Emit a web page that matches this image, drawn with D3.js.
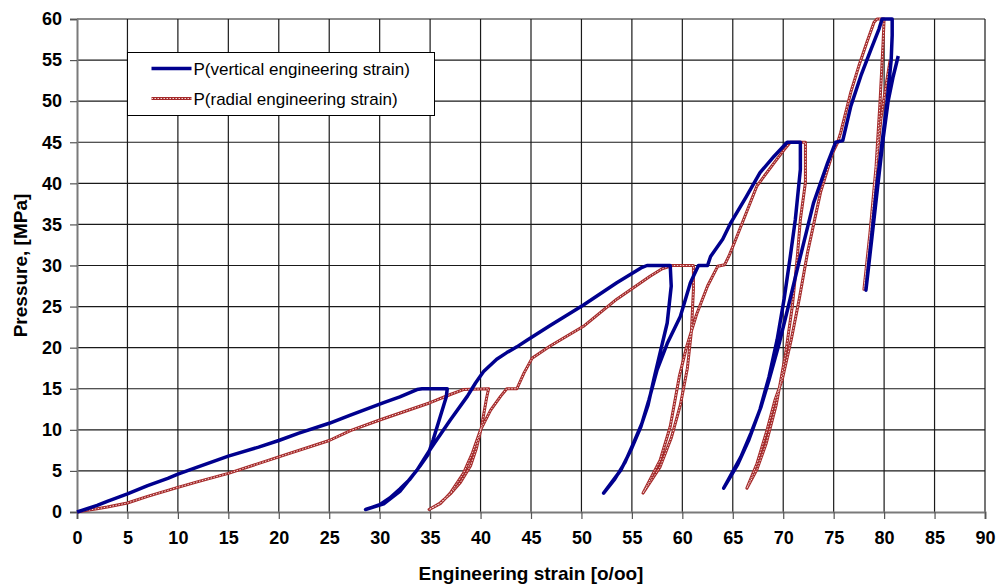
<!DOCTYPE html>
<html>
<head>
<meta charset="utf-8">
<script src="https://cdn.jsdelivr.net/npm/d3@7"></script>
<style>
  body { margin: 0; background: #fff; }
  svg { display: block; font-family: "Liberation Sans", Arial, sans-serif; }
</style>
</head>
<body>
<div id="chart"></div>
<script>
  'use strict';

  var xTicks = d3.range(0, 91, 5);
  var yTicks = d3.range(0, 61, 5);

  var seriesNames = ['P(vertical engineering strain)', 'P(radial engineering strain)'];

  // vertical strain [o/oo] and pressure [MPa]
  var verticalStrain = [
    0, 1, 2, 3, 5, 7, 9, 10, 12, 15, 18, 20, 22, 25, 27.1, 30.4, 32, 33.7, 34.2, 36.7,
    36.6, 36.0, 35.3, 34.8, 34, 33, 32, 31, 30, 28.6,
    30.4, 32.0, 33.7, 35.0, 37.0, 38.7, 39.5, 40.3, 41.6, 42.6, 43.6, 44.6, 46.9, 50.2, 53.5, 55.9, 56.5, 58.8,
    58.9, 58.5, 57.8, 57.2, 56.6, 56, 55.2, 54.3, 53.3, 52.2,
    53.9, 55.0, 55.9, 56.7, 57.5, 58.5, 59.8, 60.8, 61.6, 62.5, 62.8, 64.0, 64.8, 66.3, 67.7, 69.1, 70.4, 71.7,
    71.7, 71.2, 70.7, 70.1, 69.4, 68.6, 67.7, 66.6, 65.5, 64.1,
    65.8, 66.8, 67.8, 68.6, 69.6, 70.6, 71.7, 73.0, 74.4, 75.2, 75.9, 76.7, 77.7, 78.7, 79.5, 79.8, 80.8,
    80.8, 80.7, 80.3, 79.8, 79.3, 78.8, 78.2,
    78.8, 79.4, 79.9, 80.4, 80.9, 81.4
  ];
  var verticalP = [
    0, 0.4, 0.8, 1.3, 2.2, 3.2, 4.1, 4.6, 5.5, 6.8, 7.9, 8.7, 9.6, 10.8, 11.8, 13.3, 14.0, 14.9, 15, 15,
    14, 11.6, 8.8, 7.0, 5.6, 4.0, 2.8, 1.7, 0.9, 0.3,
    1.0, 2.5, 5.1, 7.6, 11.2, 14.1, 15.7, 17.1, 18.6, 19.4, 20.1, 20.9, 22.7, 25.2, 27.9, 29.7, 30, 30,
    27.5, 23, 19.4, 16.3, 13, 10.8, 8.5, 6, 4, 2.3,
    5.1, 7.8, 10.4, 13.7, 17.3, 20.5, 23.8, 27.9, 30, 30, 31.1, 33.2, 35.2, 38.3, 41.3, 43.3, 45, 45,
    41.7, 35.6, 31.1, 26, 21, 16.5, 12.5, 8.8, 5.8, 2.9,
    6.7, 9.6, 12.8, 16.1, 20.5, 25.5, 31.1, 37.6, 42.5, 45, 45.2, 49.4, 53.1, 56.3, 58.8, 60, 60,
    58, 55, 50, 45, 40, 34, 27,
    33.5, 40, 45.4, 50, 53, 55.5
  ];

  // radial strain [o/oo] and pressure [MPa]
  var radialStrain = [
    0, 1, 2, 3, 5, 7, 10, 12, 15, 20, 25, 27.1, 30, 35, 37, 38.3, 40.8,
    40.6, 40.1, 39.6, 39, 38, 37, 36, 34.9,
    36, 37.0, 38.3, 39.2, 40.0, 41.0, 42.0, 42.6, 43.6, 44.3, 45.1, 46.9, 50.2, 53.5, 56.8, 58, 59, 61.1,
    61.1, 60.9, 60.5, 59.8, 58.9, 57.8, 56.1,
    57.8, 58.8, 59.7, 60.4, 61.4, 62.5, 63.5, 64.2, 64.6, 65.3, 67.4, 69.1, 70.1, 70.7, 72.2,
    72.2, 71.7, 71.4, 70.9, 70.2, 69.3, 68.3, 67.4, 66.4,
    67.4, 68.4, 69.2, 69.9, 70.8, 71.6, 72.4, 73.7, 74.9, 75.4, 75.7, 76.7, 77.5, 78.3, 79.0, 79.3, 80.0,
    79.9, 79.6, 79.2, 78.7, 78.0,
    78.6, 79.2, 79.7, 80.2, 80.6
  ];
  var radialP = [
    0, 0.2, 0.4, 0.6, 1.1, 1.9, 3.0, 3.7, 4.7, 6.7, 8.7, 9.9, 11.2, 13.3, 14.3, 14.9, 15,
    13.9, 10.4, 7.8, 5.6, 3.6, 2.2, 1.1, 0.3,
    1.0, 2.3, 4.7, 7.2, 10, 12.4, 14.1, 15, 15, 16.9, 18.7, 20.2, 22.6, 25.9, 28.7, 29.6, 30, 30,
    27.1, 22, 17.5, 13, 9, 5.5, 2.3,
    6.3, 10.4, 16.5, 20, 24, 27.5, 29.9, 30.1, 31.1, 33.2, 39.7, 42.5, 44.1, 45, 45,
    40.1, 35.6, 31.1, 25, 19, 13, 8.3, 5.2, 2.9,
    5.9, 10, 13.7, 16.1, 21, 26, 31.5, 38.9, 43.7, 45, 46.2, 51.1, 54.3, 57.2, 59.6, 60, 60,
    57.2, 50, 42, 35, 27.1,
    34, 42, 48, 52, 55
  ];

  var width = 998, height = 586;
  var margin = { left: 77, right: 13, top: 19, bottom: 74 };

  var svg = d3.select('#chart').append('svg')
    .attr('width', width)
    .attr('height', height);

  var x = d3.scaleLinear().domain([0, 90]).range([margin.left, width - margin.right]);
  var y = d3.scaleLinear().domain([0, 60]).range([height - margin.bottom, margin.top]);

  var blue = '#00008e', red = '#a52a2a';

  /* ------- GRID ------- */
  var grid = svg.append('g').attr('class', 'grid');
  grid.selectAll('line.v')
    .data(xTicks.slice(1))
    .enter().append('line')
    .attr('class', 'v')
    .attr('x1', function(d) { return x(d); })
    .attr('x2', function(d) { return x(d); })
    .attr('y1', y(0))
    .attr('y2', y(60))
    .attr('stroke', '#1a1a1a')
    .attr('stroke-width', 1.2);
  grid.selectAll('line.h')
    .data(yTicks.slice(1))
    .enter().append('line')
    .attr('class', 'h')
    .attr('x1', x(0))
    .attr('x2', x(90))
    .attr('y1', function(d) { return y(d); })
    .attr('y2', function(d) { return y(d); })
    .attr('stroke', '#1a1a1a')
    .attr('stroke-width', 1.2);

  /* ------- AXES ------- */
  var xAxis = d3.axisBottom(x).tickValues(xTicks).tickSize(7).tickPadding(12);
  var yAxis = d3.axisLeft(y).tickValues(yTicks).tickSize(7).tickPadding(8);

  var gx = svg.append('g')
    .attr('transform', 'translate(0,' + y(0) + ')')
    .call(xAxis);
  var gy = svg.append('g')
    .attr('transform', 'translate(' + x(0) + ',0)')
    .call(yAxis);

  [gx, gy].forEach(function(g) {
    g.select('.domain').attr('stroke', '#7a7a7a').attr('stroke-width', 2);
    g.selectAll('.tick line').attr('stroke', '#555').attr('stroke-width', 1.2);
    g.selectAll('.tick text')
      .attr('fill', '#000')
      .style('font-size', '18px')
      .style('font-weight', 'bold');
  });

  svg.append('text')
    .attr('x', (x(0) + x(90)) / 2)
    .attr('y', 580)
    .attr('text-anchor', 'middle')
    .style('font-size', '19px')
    .style('font-weight', 'bold')
    .text('Engineering strain [o/oo]');

  svg.append('text')
    .attr('transform', 'translate(27,' + (y(0) + y(60)) / 2 + ') rotate(-90)')
    .attr('text-anchor', 'middle')
    .style('font-size', '19px')
    .style('font-weight', 'bold')
    .text('Pressure, [MPa]');

  /* ------- LINES ------- */
  var line = d3.line()
    .x(function(d) { return x(d[0]); })
    .y(function(d) { return y(d[1]); });

  var verticalData = d3.zip(verticalStrain, verticalP);
  var radialData = d3.zip(radialStrain, radialP);

  var plot = svg.append('g').attr('class', 'lines');

  plot.append('path')
    .datum(radialData)
    .attr('d', line)
    .attr('fill', 'none')
    .attr('stroke', red)
    .attr('stroke-width', 3)
    .attr('stroke-linejoin', 'round');
  plot.append('path')
    .datum(radialData)
    .attr('d', line)
    .attr('fill', 'none')
    .attr('stroke', '#f4d8d8')
    .attr('stroke-width', 1)
    .attr('stroke-dasharray', '1.5,1.5');

  plot.append('path')
    .datum(verticalData)
    .attr('d', line)
    .attr('fill', 'none')
    .attr('stroke', blue)
    .attr('stroke-width', 3.5)
    .attr('stroke-linejoin', 'round');

  /* ------- LEGEND ------- */
  var legend = svg.append('g').attr('transform', 'translate(127.5,52.5)');
  legend.append('rect')
    .attr('width', 307)
    .attr('height', 63)
    .attr('fill', '#fff')
    .attr('stroke', '#000')
    .attr('stroke-width', 1);

  var rows = [
    { name: seriesNames[0], color: blue, dotted: false, y: 16 },
    { name: seriesNames[1], color: red, dotted: true, y: 46 }
  ];
  rows.forEach(function(r) {
    legend.append('line')
      .attr('x1', 24).attr('x2', 64)
      .attr('y1', r.y).attr('y2', r.y)
      .attr('stroke', r.color)
      .attr('stroke-width', r.dotted ? 3 : 3.5);
    if (r.dotted) {
      legend.append('line')
        .attr('x1', 24).attr('x2', 64)
        .attr('y1', r.y).attr('y2', r.y)
        .attr('stroke', '#f4d8d8')
        .attr('stroke-width', 1)
        .attr('stroke-dasharray', '1.5,1.5');
    }
    legend.append('text')
      .attr('x', 66)
      .attr('y', r.y + 6)
      .style('font-size', '17px')
      .text(r.name);
  });
</script>
</body>
</html>
